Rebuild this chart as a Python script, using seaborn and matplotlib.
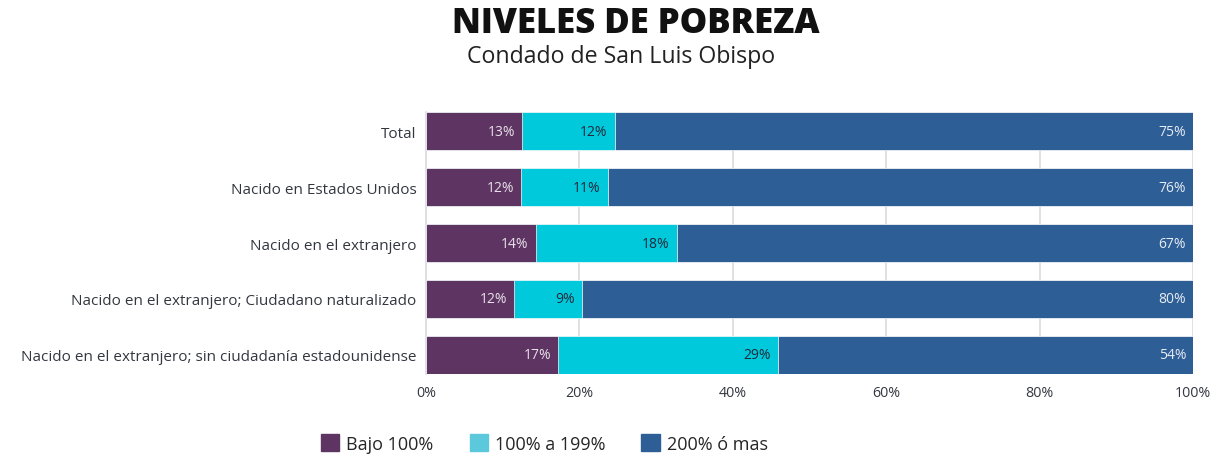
import numpy as np
import pandas as pd
import matplotlib.pyplot as plt
import seaborn as sns
from matplotlib.patches import Patch

# datos (porcentaje)
categorias = ["Total", "Nacido en Estados Unidos", "Nacido en el extranjero",
              "Nacido en el extranjero; Ciudadano naturalizado",
              "Nacido en el extranjero; sin ciudadanía estadounidense"]
bajo_100 = [12.5, 12.4, 14.3, 11.5, 17.2]
de_100_a_199 = [12.1, 11.3, 18.4, 8.8, 28.7]
mas_200 = [75.4, 76.3, 67.3, 79.7, 54.1]
etiquetas_bajo = ["13%", "12%", "14%", "12%", "17%"]
etiquetas_medio = ["12%", "11%", "18%", "9%", "29%"]
etiquetas_alto = ["75%", "76%", "67%", "80%", "54%"]

sns.set_theme(style="white")
plt.rcParams["font.family"] = ["Open Sans", "DejaVu Sans"]

df = pd.DataFrame({"categoria": categorias, "bajo": bajo_100,
                   "medio": de_100_a_199, "alto": mas_200})
df["c1"] = df["bajo"]
df["c2"] = df["bajo"] + df["medio"]
df["c3"] = df["c2"] + df["alto"]

morado = "#5E3562"
cian = "#00C9DC"
azul = "#2E5E96"

fig = plt.figure(figsize=(12.15, 4.56), dpi=100)
ax = fig.add_axes([0.3506, 0.1776, 0.6313, 0.5746])

# barras apiladas: se dibuja el acumulado de mayor a menor
sns.barplot(data=df, x="c3", y="categoria", color=azul, width=0.68, ax=ax,
            saturation=1, edgecolor="white", linewidth=0.5, zorder=3)
sns.barplot(data=df, x="c2", y="categoria", color=cian, width=0.68, ax=ax,
            saturation=1, edgecolor="white", linewidth=0.5, zorder=3)
sns.barplot(data=df, x="c1", y="categoria", color=morado, width=0.68, ax=ax,
            saturation=1, edgecolor="white", linewidth=0.5, zorder=3)

# etiquetas dentro de cada segmento
for i in range(len(df)):
    for fin, txt, col in [(df["c1"][i], etiquetas_bajo[i], "#E8E0EA"),
                          (df["c2"][i], etiquetas_medio[i], "#1F2A3A"),
                          (df["c3"][i], etiquetas_alto[i], "#E6ECF4")]:
        ax.annotate(txt, xy=(fin, i), xytext=(-5, 0), textcoords="offset points",
                    ha="right", va="center", fontsize=10, color=col, zorder=4)

ax.set_xlim(0, 100)
ax.set_ylim(4.34, -0.34)
ax.set_xticks([0, 20, 40, 60, 80, 100])
ax.set_xticklabels(["0%", "20%", "40%", "60%", "80%", "100%"])
ax.xaxis.grid(True, color="#D9DCE0", linewidth=1.2, zorder=0)
ax.set_xlabel("")
ax.set_ylabel("")
ax.tick_params(axis="both", length=0, labelsize=10, labelcolor="#333740")
ax.tick_params(axis="y", pad=7, labelsize=11)
ax.tick_params(axis="x", pad=8, labelsize=10.3)
for lado in ["top", "right", "bottom"]:
    ax.spines[lado].set_visible(False)
ax.spines["left"].set_color("#D9DCE0")
ax.spines["left"].set_linewidth(1.2)

fig.text(0.523, 0.948, "NIVELES DE POBREZA", ha="center", va="center",
         fontsize=25, fontweight="heavy", color="#111111")
fig.text(0.511, 0.875, "Condado de San Luis Obispo", ha="center", va="center",
         fontsize=16.7, color="#222222")

# leyenda
handles = [Patch(color=morado), Patch(color="#5BC8DC"), Patch(color=azul)]
fig.legend(handles, ["Bajo 100%", "100% a 199%", "200% ó mas"], loc="center",
           bbox_to_anchor=(0.448, 0.025), ncol=3, frameon=False, fontsize=13,
           handlelength=1.0, handleheight=1.0, handletextpad=0.4,
           columnspacing=2.0)

plt.savefig("out.png", dpi=100)
plt.close()
